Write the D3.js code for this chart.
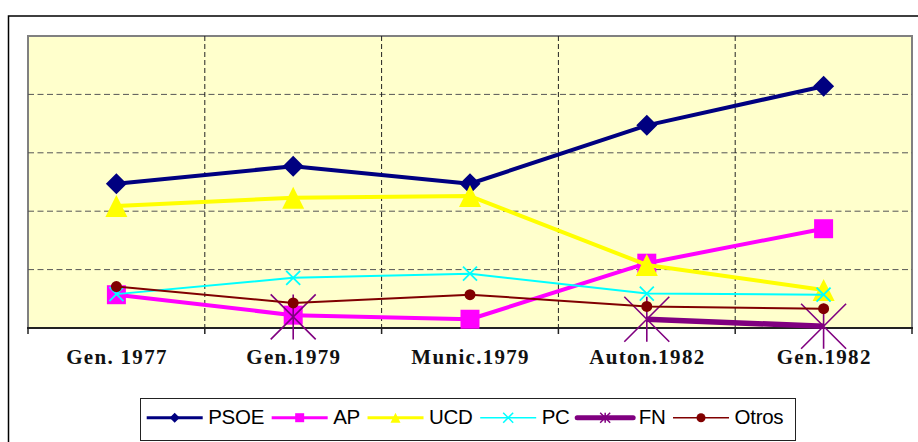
<!DOCTYPE html>
<html>
<head>
<meta charset="utf-8">
<script src="https://cdn.jsdelivr.net/npm/d3@7"></script>
<style>
  html, body { margin: 0; padding: 0; background: #fff; }
  svg { display: block; }
</style>
</head>
<body>
<svg id="chart" width="918" height="442"></svg>
<script>
const categories = ["Gen. 1977", "Gen.1979", "Munic.1979", "Auton.1982", "Gen.1982"];
const psoe  = [24.7, 27.7, 24.7, 34.7, 41.4];
const ap    = [5.7, 2.2, 1.5, 11.1, 17.0];
const ucd   = [20.9, 22.3, 22.6, 10.8, 6.5];
const pc    = [5.8, 8.6, 9.3, 5.9, 5.7];
const fn    = [null, 1.9, null, 1.5, 0.3];
const otros = [7.1, 4.3, 5.7, 3.7, 3.3];
const yTicks = [0, 10, 20, 30, 40, 50];
const seriesNames = ["PSOE", "AP", "UCD", "PC", "FN", "Otros"];

const series = [
  { name: "PSOE",  values: psoe,  color: "#000080", width: 4,   marker: "diamond",  size: 10.5, lwidth: 3 },
  { name: "AP",    values: ap,    color: "#FF00FF", width: 4,   marker: "square",   size: 9.5,  lwidth: 3 },
  { name: "UCD",   values: ucd,   color: "#FFFF00", width: 4,   marker: "triangle", size: 11,   lwidth: 3 },
  { name: "PC",    values: pc,    color: "#00FFFF", width: 2,   marker: "x",        size: 7,    lwidth: 1.5 },
  { name: "FN",    values: fn,    color: "#800080", width: 5.5, marker: "star",     size: 22.5, lwidth: 5 },
  { name: "Otros", values: otros, color: "#800000", width: 2,   marker: "circle",   size: 5.5,  lwidth: 1.5 }
];

const svg = d3.select("#chart");
const plot = { left: 28, right: 912, top: 36, bottom: 328 };

const x = d3.scaleBand().domain(categories).range([plot.left, plot.right]);
const cx = c => x(c) + x.bandwidth() / 2;
const y = d3.scaleLinear().domain([0, 50]).range([plot.bottom, plot.top]);

// outer chart border
svg.append("rect")
  .attr("x", 8.5).attr("y", 16).attr("width", 940).attr("height", 460)
  .attr("fill", "#fff").attr("stroke", "#000").attr("stroke-width", 1.5);

// plot area
svg.append("rect")
  .attr("x", plot.left).attr("y", plot.top)
  .attr("width", plot.right - plot.left).attr("height", plot.bottom - plot.top)
  .attr("fill", "#FFFFCC").attr("stroke", "#808080").attr("stroke-width", 2);

// horizontal gridlines
svg.append("g").selectAll("line")
  .data(yTicks.filter(t => t > 0 && t < 50))
  .join("line")
  .attr("x1", plot.left).attr("x2", plot.right)
  .attr("y1", d => y(d)).attr("y2", d => y(d))
  .attr("stroke", "#555").attr("stroke-width", 1).attr("stroke-dasharray", "6,3.5");

// vertical gridlines at category boundaries
svg.append("g").selectAll("line")
  .data(categories.slice(1))
  .join("line")
  .attr("x1", d => x(d)).attr("x2", d => x(d))
  .attr("y1", plot.top).attr("y2", plot.bottom)
  .attr("stroke", "#222").attr("stroke-width", 1).attr("stroke-dasharray", "5,3");

// bottom axis
svg.append("line")
  .attr("x1", plot.left - 1).attr("x2", plot.right + 1)
  .attr("y1", plot.bottom).attr("y2", plot.bottom)
  .attr("stroke", "#222").attr("stroke-width", 2);
const tickXs = categories.map(c => x(c)).concat([plot.right]);
svg.append("g").selectAll("line")
  .data(tickXs)
  .join("line")
  .attr("x1", d => d).attr("x2", d => d)
  .attr("y1", plot.bottom).attr("y2", plot.bottom + 6)
  .attr("stroke", "#222").attr("stroke-width", 1.5);

svg.append("g").selectAll("text")
  .data(categories)
  .join("text")
  .attr("x", d => cx(d) + 0.6)
  .attr("y", 364)
  .attr("text-anchor", "middle")
  .style("font-family", "'Liberation Serif', 'Times New Roman', serif")
  .style("font-weight", "bold")
  .style("font-size", "21px")
  .style("letter-spacing", "1.3px")
  .attr("fill", "#111")
  .text(d => d);

function markerPath(type, s) {
  const p = d3.path();
  switch (type) {
    case "diamond":
      p.moveTo(0, -s); p.lineTo(s, 0); p.lineTo(0, s); p.lineTo(-s, 0); p.closePath(); break;
    case "square":
      p.rect(-s, -s, 2 * s, 2 * s); break;
    case "triangle":
      p.moveTo(0, -s); p.lineTo(s, s); p.lineTo(-s, s); p.closePath(); break;
    case "x":
      p.moveTo(-s, -s); p.lineTo(s, s); p.moveTo(s, -s); p.lineTo(-s, s); break;
    case "star":
      p.moveTo(-s, -s); p.lineTo(s, s); p.moveTo(s, -s); p.lineTo(-s, s);
      p.moveTo(0, -s); p.lineTo(0, s); break;
    case "circle":
      p.arc(0, 0, s, 0, 2 * Math.PI); break;
  }
  return p.toString();
}
function drawMarker(g, s, px, py, size, strokeW) {
  const open = s.marker === "x" || s.marker === "star";
  g.append("path")
    .attr("transform", `translate(${px},${py})`)
    .attr("d", markerPath(s.marker, size))
    .attr("fill", open ? "none" : s.color)
    .attr("stroke", open ? s.color : "none")
    .attr("stroke-width", strokeW);
}

const line = d3.line()
  .defined(d => d.v != null)
  .x(d => cx(d.c))
  .y(d => y(d.v));

const gSeries = svg.append("g");
series.forEach(s => {
  const pts = categories.map((c, i) => ({ c, v: s.values[i] }));
  const g = gSeries.append("g");
  g.append("path")
    .datum(pts)
    .attr("d", line)
    .attr("fill", "none")
    .attr("stroke", s.color)
    .attr("stroke-width", s.width)
    .attr("stroke-linejoin", "round");
  pts.filter(d => d.v != null).forEach(d => {
    drawMarker(g, s, cx(d.c), y(d.v), s.size, s.marker === "star" ? 1.6 : 1.8);
  });
});

// legend
svg.append("rect")
  .attr("x", 140.5).attr("y", 398.5).attr("width", 655).attr("height", 42)
  .attr("fill", "#fff").attr("stroke", "#222").attr("stroke-width", 1);

const legendSizes = { diamond: 5, square: 4.5, triangle: 5, x: 5, star: 5, circle: 4.5 };
const lg = svg.append("g");
let lx = 146.7;
const ly = 417.7;
series.forEach(s => {
  lg.append("line")
    .attr("x1", lx).attr("x2", lx + 56)
    .attr("y1", ly).attr("y2", ly)
    .attr("stroke", s.color).attr("stroke-width", s.lwidth)
    .attr("stroke-linecap", s.name === "FN" ? "round" : "butt");
  drawMarker(lg, s, lx + 28, ly, legendSizes[s.marker], 1.5);
  const t = lg.append("text")
    .attr("x", lx + 61.5)
    .attr("y", 423.5)
    .style("font-family", "'Liberation Sans', Arial, sans-serif")
    .style("font-size", "20.5px")
    .style("letter-spacing", "-0.25px")
    .attr("fill", "#000")
    .text(s.name);
  lx = lx + 61.5 + t.node().getComputedTextLength() + 7.5;
});
</script>
</body>
</html>
